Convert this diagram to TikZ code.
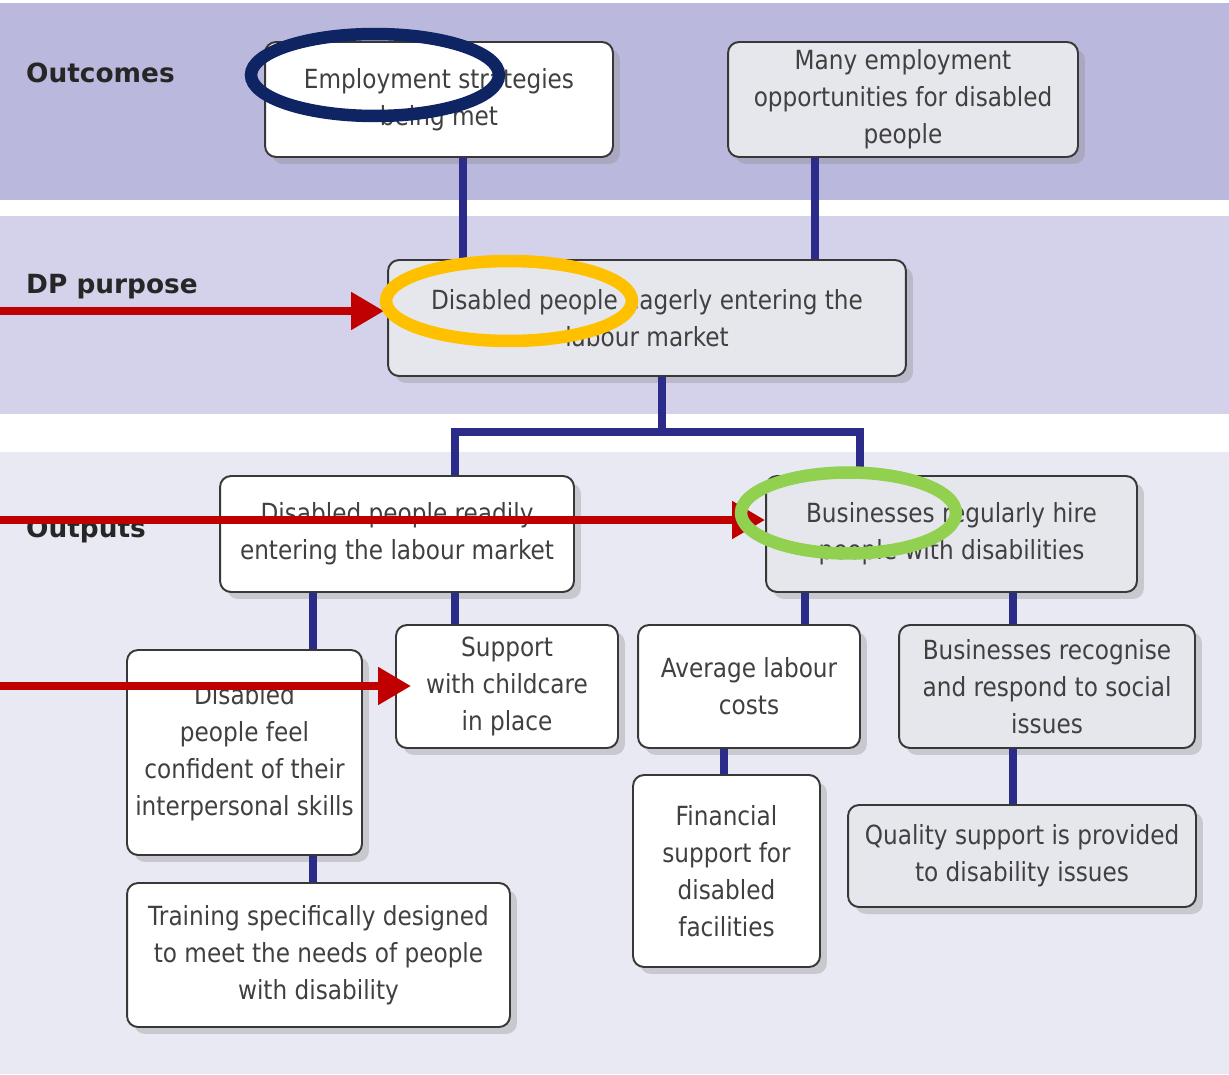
\documentclass[tikz,border=0pt]{standalone}
\usepackage{fontspec}
\setmainfont{DejaVu Sans}[FakeStretch=0.88]
\newfontfamily\bandfont{DejaVu Sans}
\usepackage{tikz}
\usetikzlibrary{arrows.meta,shadows,shapes.geometric}
\definecolor{bandtop}{HTML}{BAB8DC}
\definecolor{bandmid}{HTML}{D4D2EA}
\definecolor{bandlow}{HTML}{E9E9F4}
\definecolor{boxgray}{HTML}{E6E7EC}
\definecolor{linknavy}{HTML}{2B2B8A}
\definecolor{pointred}{HTML}{C00000}
\definecolor{ringnavy}{HTML}{0F2463}
\definecolor{ringgold}{HTML}{FFC000}
\definecolor{ringgreen}{HTML}{92D050}
\tikzset{
  goalbox/.style={draw=black!78, line width=1.1pt, rounded corners=0.22cm, fill=white,
    align=center, inner sep=2pt, text=black!75,
    font=\fontsize{15}{21}\selectfont,
    drop shadow={shadow xshift=0.14cm, shadow yshift=-0.14cm, fill=black!45, opacity=0.35}},
  graybox/.style={goalbox, fill=boxgray},
  link/.style={linknavy, line width=0.16cm},
  pointer/.style={pointred, line width=0.16cm, -{Triangle[length=0.66cm, width=0.72cm]}},
  ring/.style={draw=#1, line width=0.25cm, ellipse, inner sep=0pt},
  bandlabel/.style={anchor=west, text=black!85, font=\bandfont\bfseries\fontsize{15}{18}\selectfont}
}

\begin{document}
\begin{tikzpicture}[x=0.02cm, y=-0.02cm]
\useasboundingbox (0,0) rectangle (1229,1074);
\fill[white] (0,0) rectangle (1229,1074);
\fill[bandtop] (0,3) rectangle (1229,200);
\fill[bandmid] (0,216) rectangle (1229,414);
\fill[bandlow] (0,452) rectangle (1229,1074);

\node[bandlabel] (outcomes) at (20,73) {Outcomes};
\node[bandlabel] (purpose) at (20,287) {DP purpose};
\node[bandlabel] (outputs) at (20,530) {Outputs};

\coordinate (bar) at (0,432);

\node[goalbox, minimum width=6.96cm, minimum height=2.3cm] (emp) at (439,99.5) {Employment strategies\\being met};
\node[graybox, minimum width=7cm, minimum height=2.3cm] (many) at (903,99.5) {Many employment\\opportunities for disabled\\people};
\node[graybox, minimum width=10.36cm, minimum height=2.32cm] (eager) at (647,318) {Disabled people eagerly entering the\\labour market};
\node[goalbox, minimum width=7.08cm, minimum height=2.32cm] (readily) at (397,534) {Disabled people readily\\entering the labour market};
\node[graybox, minimum width=7.42cm, minimum height=2.32cm] (hire) at (951.5,534) {Businesses regularly hire\\people with disabilities};
\node[goalbox, minimum width=4.44cm, minimum height=2.46cm] (child) at (507,686.5) {Support\\with childcare\\in place};
\node[goalbox, minimum width=4.7cm, minimum height=4.1cm] (confid) at (244.5,752.5) {Disabled\\people feel\\confident of their\\interpersonal skills};
\node[goalbox, minimum width=7.66cm, minimum height=2.88cm] (train) at (318.5,955) {Training specifically designed\\to meet the needs of people\\with disability};
\node[goalbox, minimum width=4.44cm, minimum height=2.46cm] (avg) at (749,686.5) {Average labour\\costs};
\node[graybox, minimum width=5.92cm, minimum height=2.46cm] (recog) at (1047,686.5) {Businesses recognise\\and respond to social\\issues};
\node[goalbox, minimum width=3.74cm, minimum height=3.84cm] (fin) at (726.5,871) {Financial\\support for\\disabled\\facilities};
\node[graybox, minimum width=6.96cm, minimum height=2.04cm] (qual) at (1022,856) {Quality support is provided\\to disability issues};

\coordinate (empfoot) at ([xshift=0.48cm]emp.south);
\coordinate (manyfoot) at ([xshift=-1.76cm]many.south);
\coordinate (fork) at ([xshift=0.3cm]eager.south);
\coordinate (readtop) at ([xshift=1.16cm]readily.north);
\coordinate (hiretop) at ([xshift=-1.83cm]hire.north);
\coordinate (readleft) at ([xshift=-1.68cm]readily.south);
\coordinate (readright) at ([xshift=1.16cm]readily.south);
\coordinate (hireleft) at ([xshift=-2.93cm]hire.south);
\coordinate (hireright) at ([xshift=1.23cm]hire.south);
\coordinate (avgfoot) at ([xshift=-0.5cm]avg.south);
\coordinate (recogfoot) at ([xshift=-0.68cm]recog.south);

\draw[link] (empfoot) -- (empfoot |- eager.north);
\draw[link] (manyfoot) -- (manyfoot |- eager.north);
\draw[link] (fork) -- (fork |- bar);
\draw[link] (readtop) -- (readtop |- bar) -- (hiretop |- bar) -- (hiretop);
\draw[link] (readleft) -- (readleft |- confid.north);
\draw[link] (readright) -- (readright |- child.north);
\draw[link] (readleft |- confid.south) -- (readleft |- train.north);
\draw[link] (hireleft) -- (hireleft |- avg.north);
\draw[link] (hireright) -- (hireright |- recog.north);
\draw[link] (avgfoot) -- (avgfoot |- fin.north);
\draw[link] (recogfoot) -- (recogfoot |- qual.north);

\coordinate (tailone) at (0,311);
\coordinate (tailtwo) at (0,520);
\coordinate (tailthree) at (0,686);
\draw[pointer] (tailone) -- ([xshift=-0.06cm]eager.west |- tailone);
\draw[pointer] (tailtwo) -- (hire.west |- tailtwo);
\draw[pointer] (tailthree) -- ([xshift=0.32cm]child.west |- tailthree);

\node[ring=ringnavy, minimum width=4.96cm, minimum height=1.64cm] (ringemp) at (375,75) {};
\node[ring=ringgold, minimum width=4.92cm, minimum height=1.6cm] (ringeager) at (509,301) {};
\node[ring=ringgreen, minimum width=4.3cm, minimum height=1.62cm] (ringhire) at (848.5,513) {};
\end{tikzpicture}
\end{document}
